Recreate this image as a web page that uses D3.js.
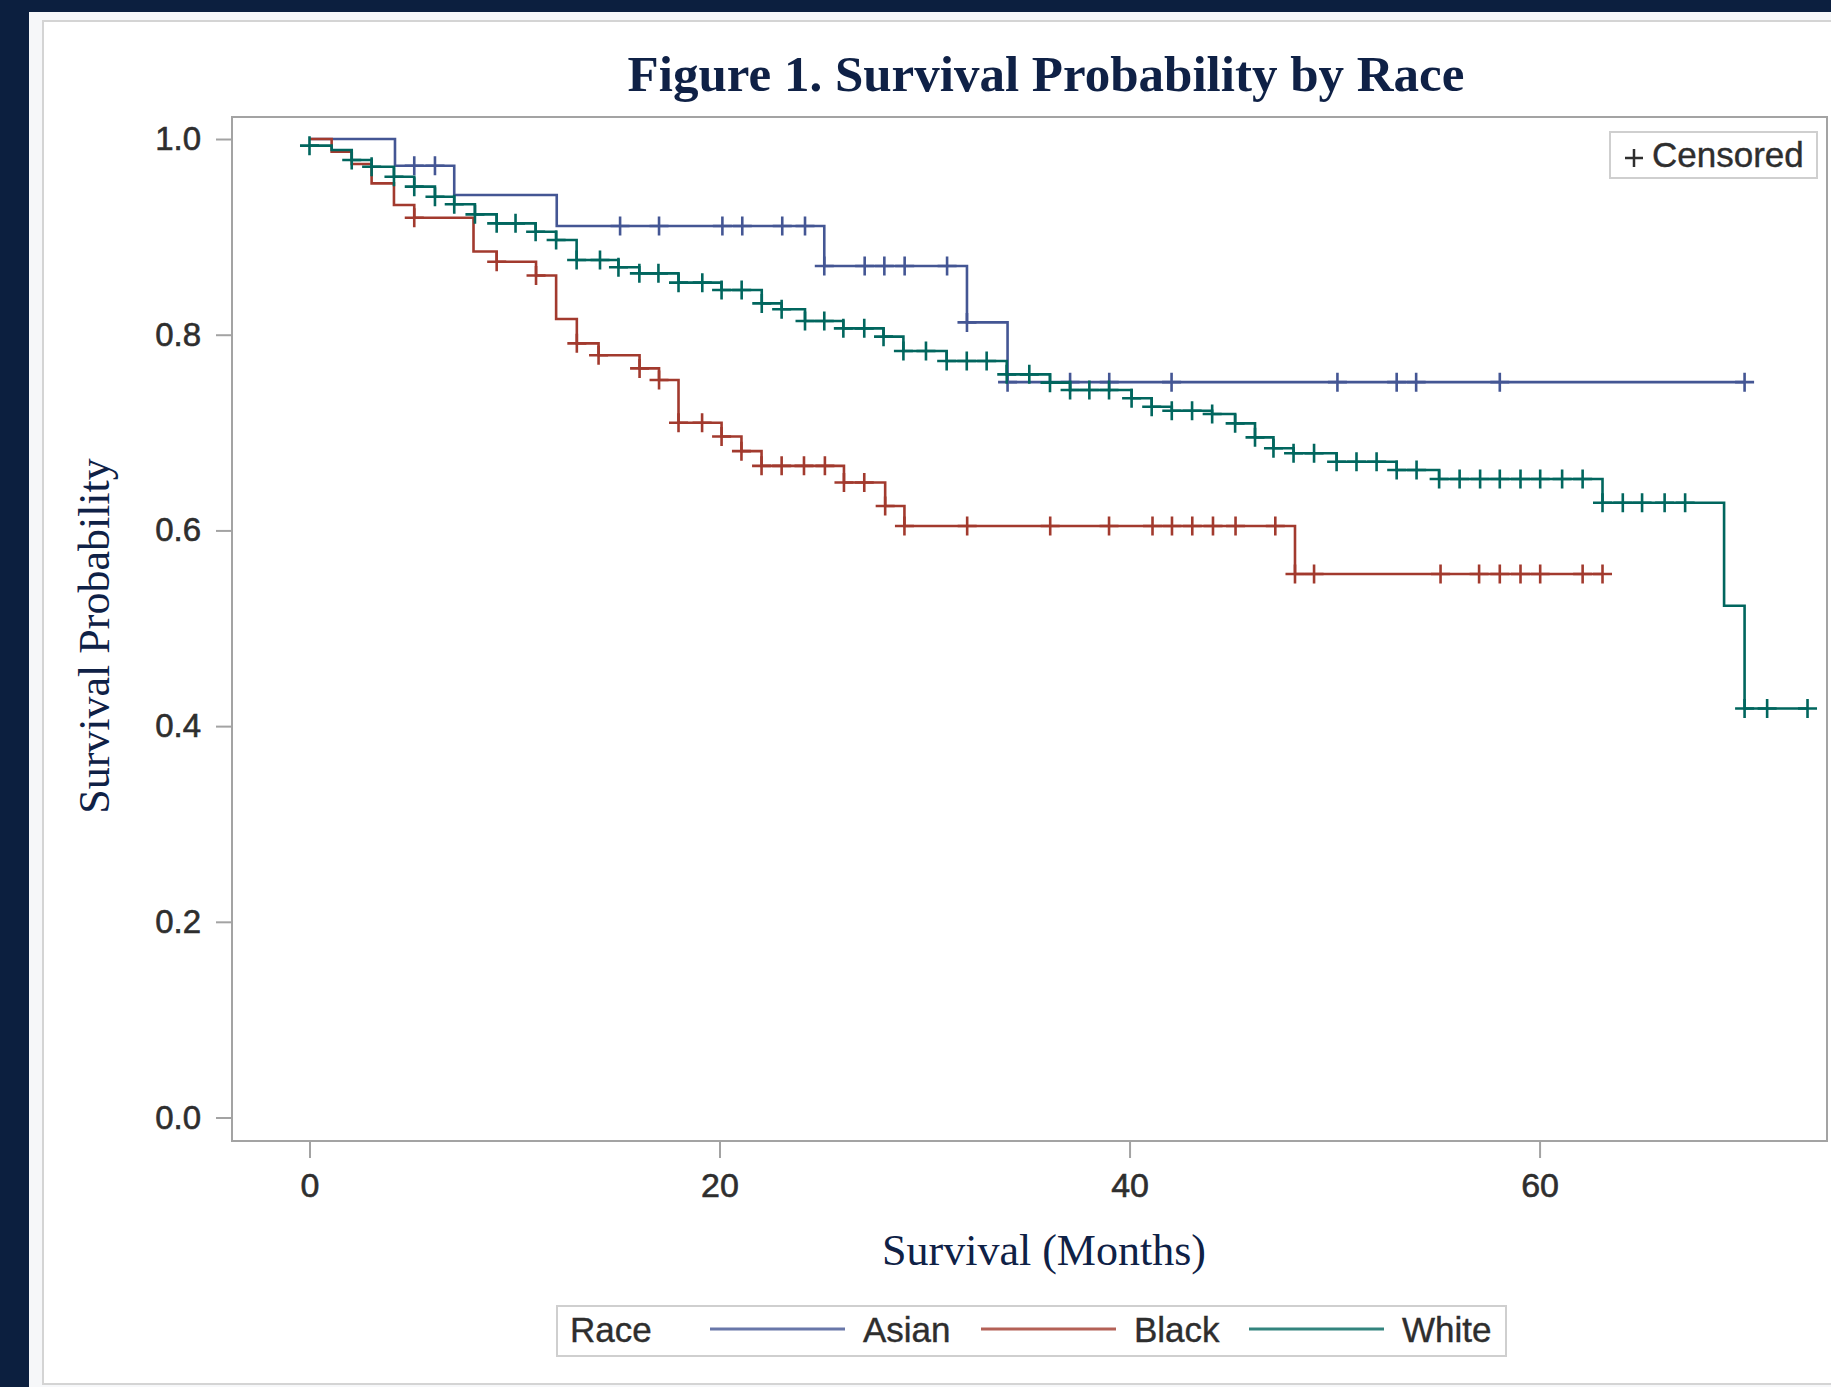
<!DOCTYPE html>
<html>
<head>
<meta charset="utf-8">
<script src="https://cdn.jsdelivr.net/npm/d3@7/dist/d3.min.js"></script>
<style>
  html, body { margin: 0; padding: 0; background: #0c1f3f; }
  svg { display: block; }
</style>
</head>
<body>
<svg id="chart" width="1831" height="1387"></svg>
<script>
// ---------------- DATA ----------------
const raceNames = ["Asian", "Black", "White"];

// Asian: step times (months) and survival after each step
const asianTimes = [0, 4.17, 7.06, 12.06, 25.11, 32.07, 34.05];
const asianSurv  = [1.0, 0.9727, 0.9428, 0.9111, 0.8702, 0.8126, 0.7515];
const asianCensor = [5.11, 6.12, 15.15, 17.05, 20.14, 21.11, 23.06, 24.17, 25.11, 27.08, 28.04, 29.03, 31.1,
  32.07, 34.05, 37.1, 39.01, 42.05, 50.14, 53.03, 53.98, 58.06, 70.0];

// Black
const blackTimes = [0, 1.08, 2.06, 3.03, 4.12, 5.11, 8.0, 9.13, 11.05, 12.03, 13.04, 14.1, 16.1, 17.05, 18.0,
  20.1, 21.07, 22.05, 26.07, 28.08, 29.02, 48.07];
const blackSurv  = [1.0, 0.987, 0.9745, 0.9547, 0.9325, 0.9196, 0.885, 0.8746, 0.8605, 0.816, 0.7912, 0.779,
  0.7656, 0.7537, 0.710, 0.696, 0.681, 0.666, 0.649, 0.625, 0.6045, 0.5554];
const blackCensor = [5.11, 9.13, 11.05, 13.04, 14.1, 16.1, 17.05, 18.0, 19.15, 20.1, 21.07, 22.05, 23.03, 24.12,
  25.14, 26.07, 27.06, 28.08, 29.02, 32.08, 36.13, 39.0, 41.12, 42.07, 43.06, 44.07, 45.17, 47.11, 48.07, 49.0,
  55.17, 57.05, 58.06, 59.07, 60.03, 62.1, 63.07];

// White
const whiteTimes = [0, 1.08, 2.06, 3.03, 4.12, 5.11, 6.12, 7.06, 8.07, 9.13, 11.03, 12.03, 13.03, 15.07, 16.09,
  18.0, 20.1, 22.06, 23.03, 24.17, 26.04, 28.0, 28.97, 31.08, 34.01, 36.12, 37.1, 40.1, 41.08, 42.06, 44.03,
  45.15, 46.12, 47.02, 48.0, 50.1, 53.03, 55.1, 63.07, 69.0, 70.0];
const whiteSurv  = [0.9932, 0.9888, 0.9785, 0.9717, 0.9615, 0.9513, 0.941, 0.9333, 0.923, 0.9138, 0.9053, 0.8968,
  0.8764, 0.8689, 0.8627, 0.8532, 0.8457, 0.832, 0.826, 0.814, 0.8065, 0.798, 0.7833, 0.7731, 0.7595, 0.751,
  0.7435, 0.735, 0.7264, 0.7223, 0.719, 0.7094, 0.6951, 0.6839, 0.6788, 0.6702, 0.6617, 0.6525, 0.6283, 0.523, 0.418];
const whiteCensor = [0, 2.06, 3.03, 4.12, 5.11, 6.12, 7.06, 8.07, 9.13, 10.05, 11.03, 12.03, 13.03, 14.17, 15.07,
  16.09, 17.02, 18.0, 19.16, 20.1, 21.08, 22.06, 23.03, 24.17, 25.11, 26.04, 27.06, 28.0, 28.97, 30.07, 31.08,
  32.06, 33.03, 34.01, 35.11, 36.12, 37.1, 38.04, 39.0, 40.1, 41.08, 42.06, 43.05, 44.03, 45.15, 46.12, 47.02,
  48.0, 49.0, 50.1, 51.07, 52.05, 53.03, 54.0, 55.1, 56.1, 57.1, 58.06, 59.07, 60.03, 61.1, 62.1, 63.07, 64.06,
  65.0, 66.1, 67.1, 70.0, 71.1, 73.07];

const xTicks = [0, 20, 40, 60];
const yTicks = [0.0, 0.2, 0.4, 0.6, 0.8, 1.0];
const titleText = "Figure 1. Survival Probability by Race";
const xTitle = "Survival (Months)";
const yTitle = "Survival Probability";
const legendTitle = "Race";
const censorLabel = "Censored";

// ---------------- LAYOUT ----------------
const W = 1831, H = 1387;
const plot = { left: 232, top: 117, right: 1827, bottom: 1141 };
const colors = { Asian: "#445694", Black: "#A23A2E", White: "#01665E" };
const navy = "#0f2146";
const textGray = "#2e2e2e";
const frameGray = "#a3a3a3";
const sansFont = "'Liberation Sans', Arial, sans-serif";
const serifFont = "'Liberation Serif', 'Times New Roman', serif";

const svg = d3.select("#chart");

// page background / panel
svg.append("rect").attr("x", 0).attr("y", 0).attr("width", W).attr("height", H).attr("fill", "#0c1f3f");
svg.append("rect").attr("x", 29).attr("y", 12).attr("width", W - 29).attr("height", H - 12).attr("fill", "#f6f7f9");
svg.append("rect").attr("x", 43).attr("y", 21).attr("width", W).attr("height", 1363)
  .attr("fill", "#ffffff").attr("stroke", "#d4d4d4").attr("stroke-width", 2);

const x = d3.scaleLinear().domain([-3.78, 74.02]).range([plot.left, plot.right]);
const y = d3.scaleLinear().domain([-0.024, 1.0225]).range([plot.bottom, plot.top]);

// title
svg.append("text").attr("x", 1046).attr("y", 91).attr("text-anchor", "middle")
  .attr("font-family", serifFont).attr("font-weight", "bold")
  .attr("font-size", 51).attr("fill", navy).text(titleText);

// frame
svg.append("rect").attr("x", plot.left).attr("y", plot.top)
  .attr("width", plot.right - plot.left).attr("height", plot.bottom - plot.top)
  .attr("fill", "#fff").attr("stroke", frameGray).attr("stroke-width", 2);

// axes
const yAxis = d3.axisLeft(y).tickValues(yTicks).tickFormat(d3.format(".1f")).tickSize(16).tickPadding(15);
const gy = svg.append("g").attr("transform", `translate(${plot.left},0)`).call(yAxis);
const xAxis = d3.axisBottom(x).tickValues(xTicks).tickFormat(d3.format("d")).tickSize(17).tickPadding(15);
const gx = svg.append("g").attr("transform", `translate(0,${plot.bottom})`).call(xAxis);
[gx, gy].forEach(g => {
  g.select(".domain").remove();
  g.selectAll(".tick line").attr("stroke", frameGray).attr("stroke-width", 2);
  g.selectAll(".tick text").attr("font-family", sansFont)
    .attr("font-size", 34).attr("fill", textGray)
    .attr("stroke", textGray).attr("stroke-width", 0.6);
});
gy.selectAll(".tick text").attr("font-size", 33);

// axis titles
svg.append("text").attr("x", 1044).attr("y", 1265).attr("text-anchor", "middle")
  .attr("font-family", serifFont).attr("font-size", 44).attr("fill", navy).text(xTitle);
svg.append("text").attr("transform", "translate(109,636) rotate(-90)").attr("text-anchor", "middle")
  .attr("font-family", serifFont).attr("font-size", 44).attr("fill", navy).text(yTitle);

// curves
const series = [
  { name: "Asian", times: asianTimes, surv: asianSurv, censor: asianCensor },
  { name: "Black", times: blackTimes, surv: blackSurv, censor: blackCensor },
  { name: "White", times: whiteTimes, surv: whiteSurv, censor: whiteCensor }
];
const line = d3.line().x(d => x(d[0])).y(d => y(d[1])).curve(d3.curveStepAfter);
const half = 9.5;

series.forEach(s => {
  const pts = s.times.map((t, i) => [t, s.surv[i]]);
  const endT = d3.max(s.censor);
  pts.push([endT, s.surv[s.surv.length - 1]]);
  const survAt = t => {
    let v = s.surv[0];
    for (let i = 0; i < s.times.length; i++) if (s.times[i] <= t + 1e-9) v = s.surv[i];
    return v;
  };
  const g = svg.append("g");
  g.append("path").attr("d", line(pts)).attr("fill", "none")
    .attr("stroke", colors[s.name]).attr("stroke-width", 2.6);
  g.selectAll("path.c").data(s.censor).enter().append("path").attr("class", "c")
    .attr("d", t => {
      const cx = x(t), cy = y(survAt(t));
      return `M${cx - half},${cy}H${cx + half}M${cx},${cy - half}V${cy + half}`;
    })
    .attr("fill", "none").attr("stroke", colors[s.name]).attr("stroke-width", 2.6);
});

// censored inset legend
const cg = svg.append("g");
cg.append("rect").attr("x", 1610).attr("y", 132).attr("width", 207).attr("height", 46)
  .attr("fill", "#fff").attr("stroke", "#cfcfcf").attr("stroke-width", 2);
cg.append("path").attr("d", "M1625,158H1643M1634,149V167").attr("stroke", textGray).attr("stroke-width", 2.5);
cg.append("text").attr("x", 1652).attr("y", 167).attr("font-family", sansFont)
  .attr("font-size", 35).attr("fill", textGray).attr("stroke", textGray).attr("stroke-width", 0.4)
  .text(censorLabel);

// bottom legend
const lg = svg.append("g");
lg.append("rect").attr("x", 557).attr("y", 1306).attr("width", 949).attr("height", 50)
  .attr("fill", "#fff").attr("stroke", "#cfcfcf").attr("stroke-width", 2);
lg.append("text").attr("x", 570).attr("y", 1342).attr("font-family", sansFont)
  .attr("font-size", 35).attr("fill", textGray).attr("stroke", textGray).attr("stroke-width", 0.4)
  .text(legendTitle);
const legX = [710, 981, 1249];
raceNames.forEach((r, i) => {
  lg.append("line").attr("x1", legX[i]).attr("x2", legX[i] + 135).attr("y1", 1329).attr("y2", 1329)
    .attr("stroke", colors[r]).attr("stroke-width", 3).attr("opacity", 0.8);
  lg.append("text").attr("x", legX[i] + 153).attr("y", 1342)
    .attr("font-family", sansFont)
    .attr("font-size", 35).attr("fill", textGray).attr("stroke", textGray).attr("stroke-width", 0.4)
    .text(r);
});
</script>
</body>
</html>
